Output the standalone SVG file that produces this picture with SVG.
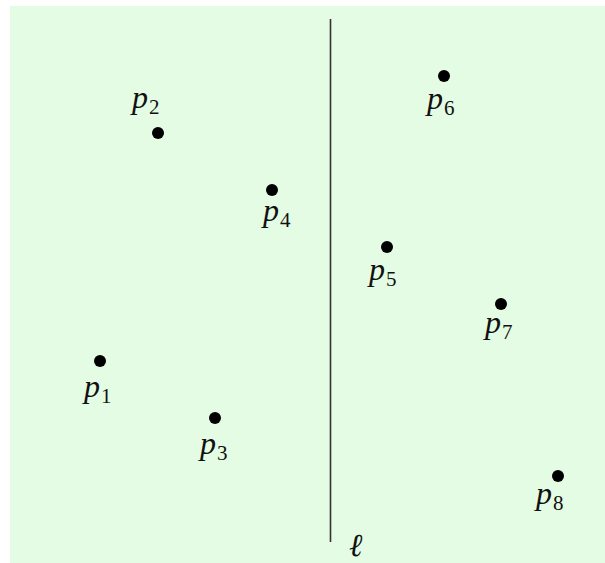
<svg xmlns="http://www.w3.org/2000/svg" width="605" height="563" viewBox="0 0 605 563">
<defs>
<style>
.line{stroke:#333;stroke-width:1.6}
</style>
</defs>
<rect x="10" y="6" width="595" height="557" fill="#e4fce3"/>
<g id="connectors">
<line class="line" x1="330.5" y1="19" x2="330.5" y2="542"/>
</g>
<g font-family="Liberation Serif, Times New Roman, serif" font-size="32" fill="#111">
<g id="l">
<text font-style="italic" x="349" y="556">ℓ</text>
</g>
<g id="p1"><circle fill="#000" cx="100" cy="361" r="6"/><text x="84" y="397"><tspan font-style="italic">p</tspan><tspan font-size="21" dx="1" dy="6">1</tspan></text></g>
<g id="p2"><circle fill="#000" cx="158" cy="133" r="6"/><text x="132" y="108"><tspan font-style="italic">p</tspan><tspan font-size="21" dx="1" dy="6">2</tspan></text></g>
<g id="p3"><circle fill="#000" cx="215" cy="418" r="6"/><text x="200" y="454"><tspan font-style="italic">p</tspan><tspan font-size="21" dx="1" dy="6">3</tspan></text></g>
<g id="p4"><circle fill="#000" cx="272" cy="190" r="6"/><text x="263" y="221"><tspan font-style="italic">p</tspan><tspan font-size="21" dx="1" dy="6">4</tspan></text></g>
<g id="p5"><circle fill="#000" cx="387" cy="247" r="6"/><text x="369" y="280"><tspan font-style="italic">p</tspan><tspan font-size="21" dx="1" dy="6">5</tspan></text></g>
<g id="p6"><circle fill="#000" cx="444" cy="76" r="6"/><text x="427" y="109"><tspan font-style="italic">p</tspan><tspan font-size="21" dx="1" dy="6">6</tspan></text></g>
<g id="p7"><circle fill="#000" cx="501" cy="304" r="6"/><text x="485" y="333"><tspan font-style="italic">p</tspan><tspan font-size="21" dx="1" dy="6">7</tspan></text></g>
<g id="p8"><circle fill="#000" cx="558" cy="476" r="6"/><text x="536" y="504"><tspan font-style="italic">p</tspan><tspan font-size="21" dx="1" dy="6">8</tspan></text></g>
</g>
</svg>
